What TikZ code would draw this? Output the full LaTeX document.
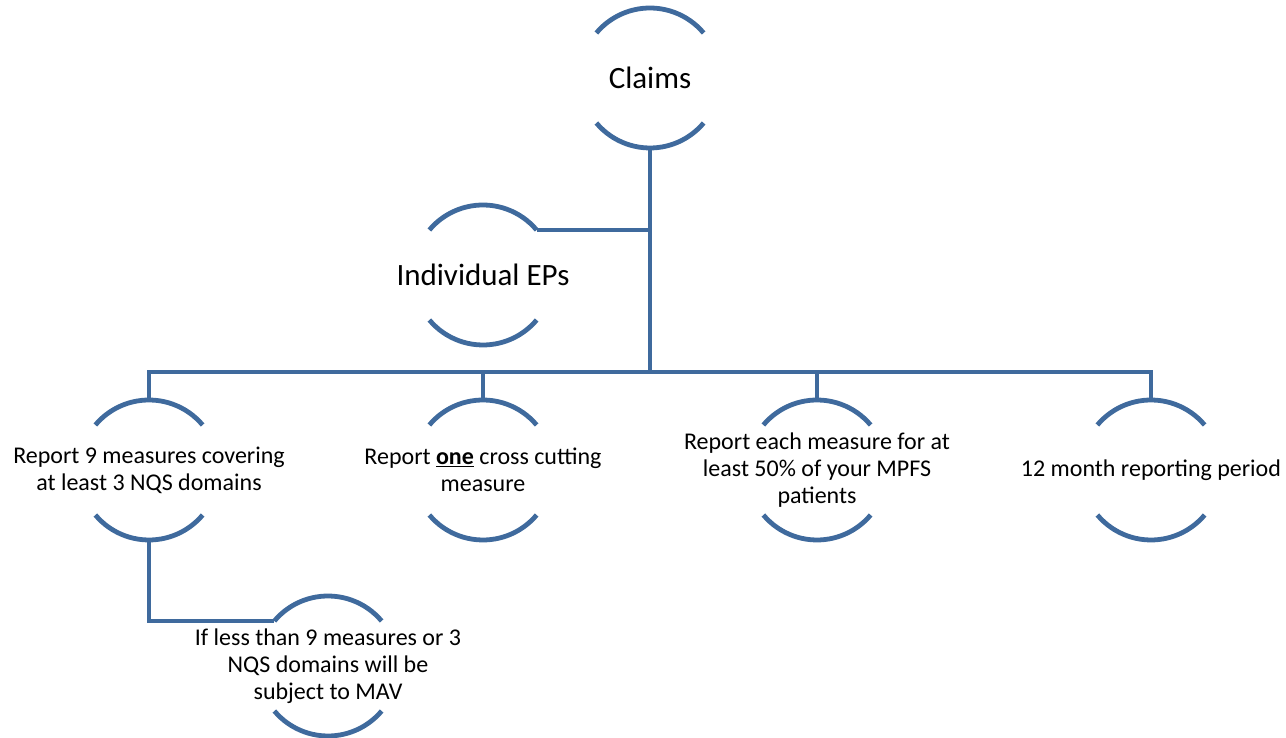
\documentclass[tikz,border=0pt]{standalone}
\usepackage{fontspec}
\setmainfont{Carlito}
\definecolor{arcblue}{HTML}{3F6A9D}
\begin{document}
\begin{tikzpicture}[x=1pt,y=1pt,
  hub/.style={circle, minimum size=140pt, inner sep=0pt, outer sep=0pt, draw=none},
  link/.style={draw=arcblue, line width=4.8pt},
  lbl/.style={align=center, font=\fontsize{24}{27}\selectfont, text=black, inner sep=0pt},
  big/.style={lbl, font=\fontsize{31}{36}\selectfont}]
\useasboundingbox (0,0) rectangle (1286,738);

% circle hubs
\node[hub] (claims) at (650,660) {};
\node[hub] (ind) at (483,463) {};
\node[hub] (n1) at (149,268) {};
\node[hub] (n2) at (483,268) {};
\node[hub] (n3) at (817,268) {};
\node[hub] (n4) at (1151,268) {};
\node[hub] (n5) at (328,72) {};
\coordinate (bar) at (650,366);

% top and bottom arcs of each hub
\foreach \n in {claims,ind,n1,n2,n3,n4,n5} {
  \draw[link] (\n.40) arc[start angle=40, end angle=140, radius=70pt];
  \draw[link] (\n.220) arc[start angle=220, end angle=320, radius=70pt];
}

% connectors
\draw[link] (claims.south) -- (bar);
\draw[link] (ind.40) -- (ind.40 -| bar);
\draw[link] (n1.north) |- (bar) -| (n4.north);
\draw[link] (n2.north) -- (n2.north |- bar);
\draw[link] (n3.north) -- (n3.north |- bar);
\draw[link] (n1.south) |- (n5.140);

% labels
\node[big] (tclaims) at (claims) {Claims};
\node[big] (tind) at (ind) {Individual EPs};
\node[lbl] (t1) at (n1) {Report 9 measures covering\\at least 3 NQS domains};
\node[lbl] (t2) at (n2) {Report \textbf{\underline{one}} cross cutting\\measure};
\node[lbl] (t3) at (n3) {Report each measure for at\\least 50\% of your MPFS\\patients};
\node[lbl] (t4) at (n4) {12 month reporting period};
\node[lbl] (t5) at (n5) {If less than 9 measures or 3\\NQS domains will be\\subject to MAV};
\end{tikzpicture}
\end{document}
